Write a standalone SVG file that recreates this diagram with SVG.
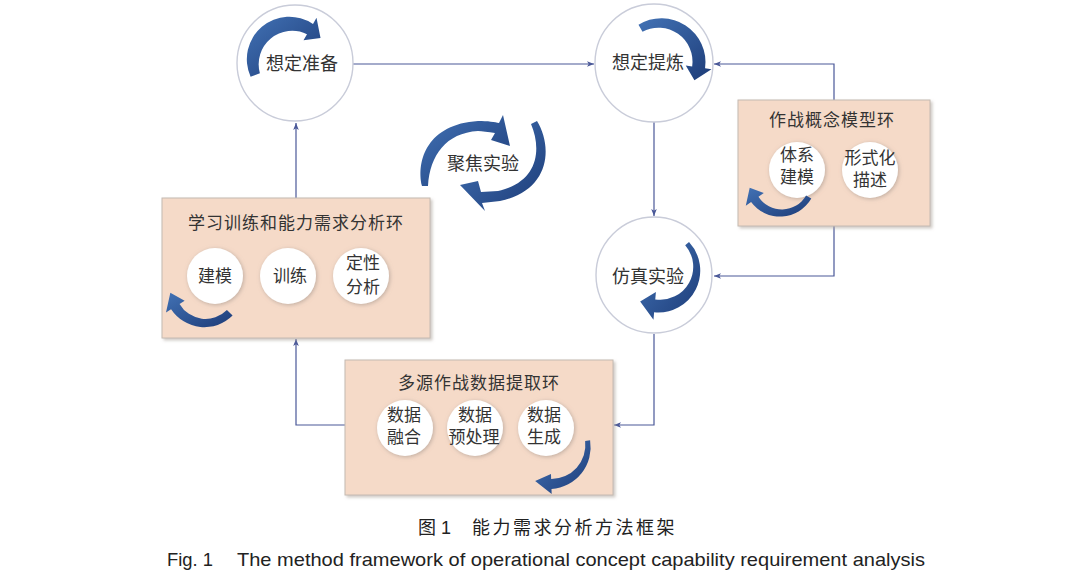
<svg xmlns="http://www.w3.org/2000/svg" width="1080" height="584" viewBox="0 0 1080 584">
<defs>
<style>
.big{fill:#ffffff;stroke:#c9ccd9;stroke-width:1.4}
.box{fill:#f5dac8;stroke:#c4bab2;stroke-width:1}
.small{fill:#ffffff}
.t{font-family:"Liberation Serif","Noto Sans CJK SC",serif;fill:#333333;text-anchor:middle}
.big-t{font-size:18px}
.box-t{font-size:17px;letter-spacing:1px}
.in-t{font-size:17px}
.conn{fill:none;stroke:#4a5898;stroke-width:1.2}
.cur{fill:url(#g)}
.cap{font-family:"Liberation Sans","Noto Sans CJK SC",sans-serif;fill:#222222}
</style>
<linearGradient id="g" x1="0" y1="0" x2="1" y2="1">
<stop offset="0" stop-color="#4272b5"/>
<stop offset="1" stop-color="#1d3c78"/>
</linearGradient>
<marker id="ah" viewBox="0 0 10 10" refX="10" refY="5" markerWidth="7" markerHeight="7" orient="auto" markerUnits="userSpaceOnUse">
<path d="M0,1 L10,5 L0,9 L2.5,5 Z" fill="#4a5898"/>
</marker>
<filter id="glow" x="-30%" y="-30%" width="160%" height="160%">
<feGaussianBlur in="SourceAlpha" stdDeviation="2"/>
<feOffset dx="0.5" dy="1" result="b"/>
<feFlood flood-color="#9a8c84" flood-opacity="0.6"/>
<feComposite in2="b" operator="in"/>
<feMerge><feMergeNode/><feMergeNode in="SourceGraphic"/></feMerge>
</filter>
<filter id="bsh" x="-5%" y="-5%" width="112%" height="115%">
<feGaussianBlur in="SourceAlpha" stdDeviation="1.5"/>
<feOffset dx="2" dy="2" result="b"/>
<feFlood flood-color="#b0a8a0" flood-opacity="0.6"/>
<feComposite in2="b" operator="in"/>
<feMerge><feMergeNode/><feMergeNode in="SourceGraphic"/></feMerge>
</filter>
</defs>
<rect width="1080" height="584" fill="#ffffff"/>

<g id="connectors">
<path class="conn" d="M353,64 H594" marker-end="url(#ah)"/>
<path class="conn" d="M654,122 V216" marker-end="url(#ah)"/>
<path class="conn" d="M654,334 V425 H614" marker-end="url(#ah)"/>
<path class="conn" d="M345,425 H296 V339" marker-end="url(#ah)"/>
<path class="conn" d="M296,198 V123" marker-end="url(#ah)"/>
<path class="conn" d="M834,100 V64 H714" marker-end="url(#ah)"/>
<path class="conn" d="M834,226 V276 H714" marker-end="url(#ah)"/>
</g>

<g id="node-xiangding-zhunbei">
<circle class="big" cx="295" cy="63" r="58"/>
<path class="cur" d="M250.6,76.7 A42.5,42.5 0 0 1 313,23.9 L316.5,17.83 L320.53,38.09 L303.5,40.35 L307,34.29 A33.5,33.5 0 0 0 259.9,73.3 Z"/>
<text class="t big-t" x="302" y="69.5">想定准备</text>
</g>

<g id="node-xiangding-tilian">
<circle class="big" cx="654" cy="63" r="59"/>
<path class="cur" d="M638.5,24.76 A44,44 0 0 1 705.06,68.33 L711.5,69.24 L694.43,80.31 L685.75,65.62 L692.18,66.52 A34,34 0 0 0 642.5,31.69 Z"/>
<text class="t big-t" x="648" y="69">想定提炼</text>
</g>

<g id="node-fangzhen-shiyan">
<circle class="big" cx="654" cy="275" r="58"/>
<path class="cur" d="M689.02,241.97 A42,42 0 0 1 654.12,312.33 L653.47,319.8 L640.16,301.55 L655.91,291.91 L655.25,299.38 A33,33 0 0 0 685.19,245.18 Z"/>
<text class="t big-t" x="648" y="283">仿真实验</text>
</g>

<g id="node-jujiao-shiyan">
<path class="cur" d="M422,186 C416,160 428,124 478,121 C488,121 495,122 499,123 L503,115 L510,146 L491,140 L495,133 C488,132 482,131 478,131 C446,133 430,155 428,186 Z"/>
<path class="cur" d="M537,121 C552,145 552,190 500,201 L482,203 L485,211 L460,185 L478,181 L481,192 L498,191 C538,182 542,150 531,124 Z"/>
<text class="t big-t" x="483" y="169.5">聚焦实验</text>
</g>

<g id="node-zuozhan-gainian">
<rect class="box" x="738" y="100" width="192" height="126" filter="url(#bsh)"/>
<text class="t box-t" x="832" y="126">作战概念模型环</text>
<circle class="small" cx="797" cy="170" r="28" filter="url(#glow)"/>
<circle class="small" cx="870" cy="170" r="28" filter="url(#glow)"/>
<path class="cur" d="M811.31,198.5 A36,36 0 0 1 751.1,201.94 L745.78,205.66 L749.7,187.65 L763.8,193.05 L758.47,196.77 A28,28 0 0 0 806.11,195.5 Z"/>
<text class="t in-t" x="797" y="161">体系</text>
<text class="t in-t" x="797" y="183">建模</text>
<text class="t in-t" x="870" y="164">形式化</text>
<text class="t in-t" x="870" y="186">描述</text>
</g>

<g id="node-xuexi-xunlian">
<rect class="box" x="162" y="198" width="268" height="140" filter="url(#bsh)"/>
<text class="t box-t" x="296" y="229">学习训练和能力需求分析环</text>
<circle class="small" cx="215" cy="276" r="28" filter="url(#glow)"/>
<circle class="small" cx="288" cy="276" r="28" filter="url(#glow)"/>
<circle class="small" cx="361" cy="276" r="28" filter="url(#glow)"/>
<path class="cur" d="M232.58,315.58 A40,40 0 0 1 171.08,309.2 L165.99,312.38 L170.34,292.87 L184.65,300.72 L179.56,303.9 A30,30 0 0 0 226.92,309.92 Z"/>
<text class="t in-t" x="215" y="282">建模</text>
<text class="t in-t" x="290" y="282">训练</text>
<text class="t in-t" x="363" y="269">定性</text>
<text class="t in-t" x="363" y="293">分析</text>
</g>

<g id="node-duoyuan-shuju">
<rect class="box" x="345" y="360" width="268" height="135" filter="url(#bsh)"/>
<text class="t box-t" x="479" y="389">多源作战数据提取环</text>
<circle class="small" cx="405" cy="428" r="28" filter="url(#glow)"/>
<circle class="small" cx="475" cy="428" r="28" filter="url(#glow)"/>
<circle class="small" cx="546" cy="428" r="28" filter="url(#glow)"/>
<path class="cur" d="M590.11,440.36 A42,42 0 0 1 551.5,488.97 L551.68,493.97 L535.15,480.98 L550.98,473.98 L551.15,478.98 A34,34 0 0 0 585.15,441.06 Z"/>
<text class="t in-t" x="404" y="421">数据</text>
<text class="t in-t" x="404" y="443">融合</text>
<text class="t in-t" x="475" y="421">数据</text>
<text class="t in-t" x="474" y="443">预处理</text>
<text class="t in-t" x="544" y="421">数据</text>
<text class="t in-t" x="544" y="443">生成</text>
</g>

<g id="caption">
<text class="cap" x="418" y="534" font-size="18">图 1</text>
<text class="cap" x="472" y="534" font-size="18" letter-spacing="2.5">能力需求分析方法框架</text>
<text class="cap" x="167" y="566" font-size="19" textLength="46" lengthAdjust="spacingAndGlyphs">Fig. 1</text>
<text class="cap" x="237" y="566" font-size="19" textLength="688" lengthAdjust="spacingAndGlyphs">The method framework of operational concept capability requirement analysis</text>
</g>
</svg>
